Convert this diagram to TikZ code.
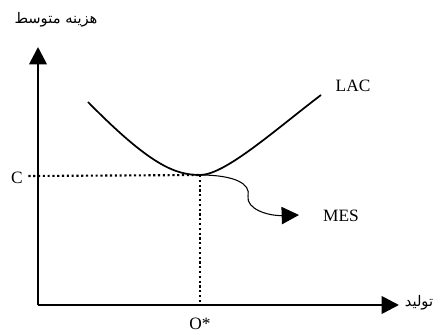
\documentclass[tikz,border=0pt]{standalone}
\usepackage{fontspec}
\setmainfont{Liberation Serif}
\newfontfamily\farsifont[Script=Arabic]{DejaVu Sans}
\TeXXeTstate=1
\usetikzlibrary{arrows.meta, positioning}

\begin{document}
\begin{tikzpicture}[
    x=0.75pt, y=-0.75pt,
    axis/.style={-{Triangle[length=13, width=13]}, line width=2pt},
    guide/.style={dotted, line width=1.6pt},
    label/.style={font=\fontsize{13}{15}\selectfont, inner sep=1pt},
    farsi/.style={font=\farsifont\fontsize{11}{13}\selectfont, inner sep=1pt},
]

\useasboundingbox (0,0) rectangle (440,335);

\coordinate (origin) at (38,305);
\coordinate (ytip) at (38,47);
\coordinate (xtip) at (399,305);
\coordinate (cmin) at (200,175);
\coordinate (cstart) at (88,102);
\coordinate (cend) at (321,95);
\coordinate (mestip) at (299,215);

\node[farsi] (ylabel) at (56,20) {\beginR هزینه متوسط\endR};
\node[farsi] (xlabel) at (419,303) {\beginR تولید\endR};
\node[label] (lac) at (353,86) {LAC};
\node[label] (mes) at (341,216) {MES};
\node[label] (clabel) at (17,178) {C};
\node[label] (olabel) at (200,324) {O*};

\draw[axis] (origin) -- (ytip);
\draw[axis] (origin) -- (xtip);

% dotted guides to the minimum of LAC
\draw[guide] (clabel.east) ++(4,-2) -- (cmin);
\draw[guide] (cmin) -- (origin -| cmin);

\draw[line width=1.3pt] (cstart) .. controls (150,165) and (175,175) .. (cmin)
    .. controls (225,175) and (275,130) .. (cend);

\draw[-{Triangle[length=13, width=13]}, line width=0.8pt] (cmin) .. controls (235,175) and (251,184) .. (248,196)
    .. controls (246,209) and (268,216) .. (mestip);

\end{tikzpicture}
\end{document}
